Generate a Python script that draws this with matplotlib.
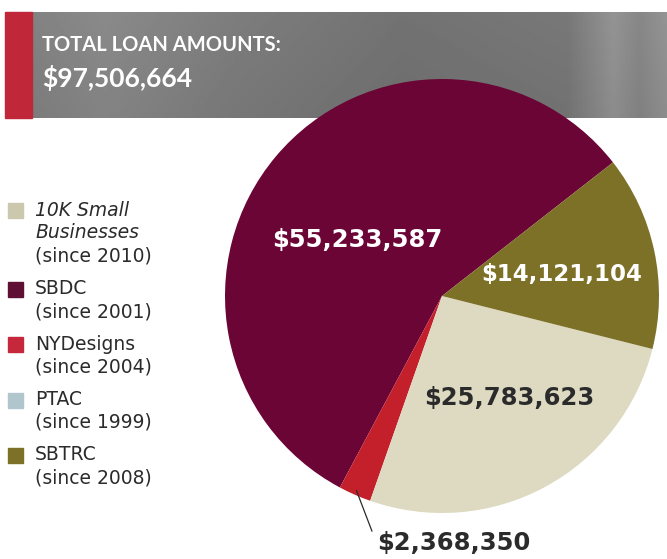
import numpy as np
import matplotlib
matplotlib.use("Agg")
import matplotlib.pyplot as plt
from matplotlib.patches import Rectangle

# slices in drawing order (counter-clockwise from start angle)
names = ["SBDC", "PTAC", "NYDesigns", "10K Small Businesses", "SBTRC"]
amounts = [55233587, 0, 2368350, 25783623, 14121104]
colors = ["#6b0535", "#b0c6cc", "#c4202b", "#dedac2", "#7d7128"]
total_label = "$97,506,664"

# legend (top to bottom)
legend_lines = [["10K Small", "Businesses", "(since 2010)"],
                ["SBDC", "(since 2001)"],
                ["NYDesigns", "(since 2004)"],
                ["PTAC", "(since 1999)"],
                ["SBTRC", "(since 2008)"]]
legend_colors = ["#cbc8ad", "#5e0f33", "#c4283a", "#b0c6cc", "#7d7128"]

W, H = 667, 559
HEAD_FONT = "Lato"
BODY_FONT = "DejaVu Sans"
fig = plt.figure(figsize=(W / 100, H / 100), dpi=100)
fig.patch.set_facecolor("white")

# pixel-space overlay for the header and legend
bg = fig.add_axes([0, 0, 1, 1], zorder=0)
bg.set_xlim(0, W); bg.set_ylim(H, 0); bg.axis("off")

# gray header band with soft gradient
xs = np.linspace(0, 1, 400)
row = np.interp(xs, [0, 0.15, 0.35, 0.6, 0.85, 0.92, 0.96, 1.0],
                [0.50, 0.54, 0.49, 0.45, 0.47, 0.58, 0.53, 0.58])
yy = np.linspace(0, 1, 60)[:, None]
grad = row[None, :] * (1.0 - 0.05 * yy)
bg.imshow(grad, cmap="gray", vmin=0, vmax=1, extent=[5, W, 118, 12], aspect="auto", zorder=1)
bg.add_patch(Rectangle((5, 12), 27, 106, color="#c0283a", zorder=2))
bg.text(42, 45, "TOTAL LOAN AMOUNTS:", color="white", fontsize=14.5, fontweight="bold",
        family=HEAD_FONT, va="center", ha="left", zorder=3)
bg.text(42, 78, total_label, color="white", fontsize=19, fontweight="bold",
        family=HEAD_FONT, va="center", ha="left", zorder=3)

# legend
y = 210
for lines, c in zip(legend_lines, legend_colors):
    bg.add_patch(Rectangle((8, y - 7), 15, 15, color=c, zorder=2))
    for j, ln in enumerate(lines):
        italic = lines[0].startswith("10K") and j < 2
        bg.text(35, y + j * 23, ln, color="#2b2b2b", fontsize=13.5, family=BODY_FONT,
                style="italic" if italic else "normal", va="center", ha="left")
    y += len(lines) * 23 + 9.5

# pie
cx, cy, r = 442, 296, 217
ax = fig.add_axes([(cx - r) / W, (H - cy - r) / H, 2 * r / W, 2 * r / H], zorder=1)
ax.patch.set_alpha(0)
wedges, _ = ax.pie(amounts, colors=colors, startangle=38, counterclock=True, radius=1,
                   wedgeprops=dict(linewidth=0))
ax.set_xlim(-1, 1); ax.set_ylim(-1, 1); ax.axis("off")

fmt = lambda v: "${:,}".format(v)
label_xy = {"SBDC": (-0.39, 0.26, "white", 17.5), "SBTRC": (0.55, 0.10, "white", 16.5),
            "10K Small Businesses": (0.31, -0.47, "#2b2b2b", 17.5)}
for n, v in zip(names, amounts):
    if n in label_xy:
        x, yv, col, fs = label_xy[n]
        ax.text(x, yv, fmt(v), color=col, fontsize=fs, fontweight="bold", family=BODY_FONT,
                ha="center", va="center")

# leader for the thin NYDesigns slice
k = names.index("NYDesigns")
w = wedges[k]
mid = np.deg2rad((w.theta1 + w.theta2) / 2)
p0 = (0.98 * np.cos(mid), 0.98 * np.sin(mid))
ax.plot([p0[0], -0.323], [p0[1], -1.083], color="#2b2b2b", lw=0.9, clip_on=False)
ax.text(-0.30, -1.14, fmt(amounts[k]), color="#2b2b2b", fontsize=17.5, fontweight="bold",
        family=BODY_FONT, ha="left", va="center", clip_on=False)

fig.savefig("out.png", dpi=100)
